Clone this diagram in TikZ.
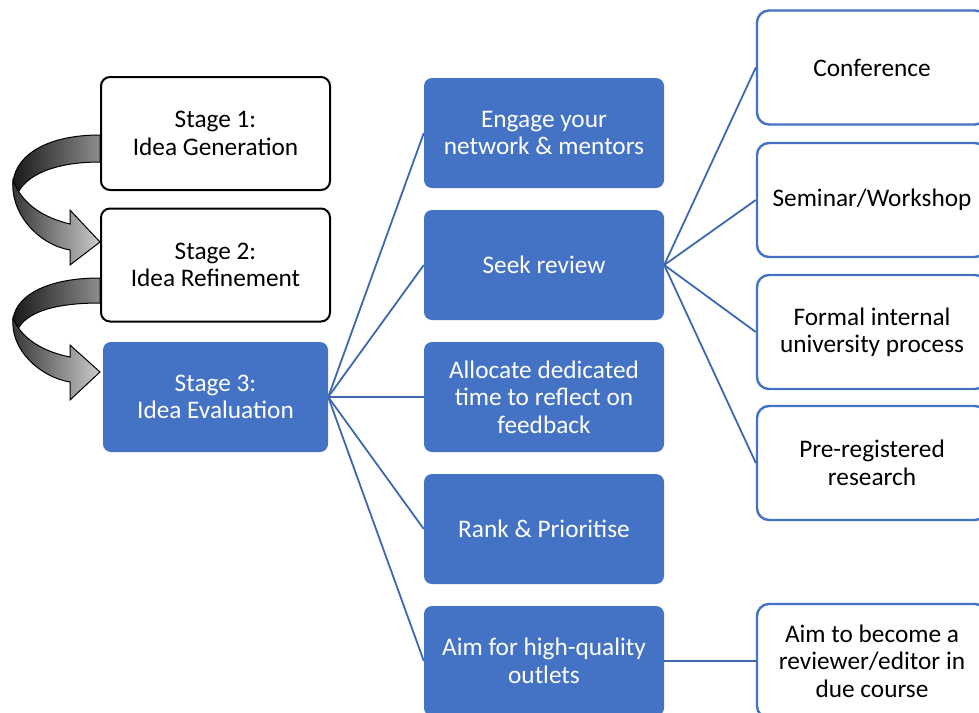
\documentclass[tikz,border=0pt]{standalone}
\usepackage{fontspec}
\setmainfont{Carlito}
\definecolor{accent}{HTML}{4472C4}
\definecolor{linkblue}{HTML}{3F67B0}
\tikzset{
  txt/.style={align=center, font=\fontsize{25.3}{27.5}\selectfont},
  stagebox/.style={txt, draw=black, line width=2pt, fill=white, rounded corners=9pt,
    minimum width=229pt, minimum height=113pt},
  stagefill/.style={txt, fill=accent, text=white, rounded corners=8pt,
    minimum width=225pt, minimum height=110pt},
  midbox/.style={txt, fill=accent, text=white, rounded corners=8pt,
    minimum width=240pt, minimum height=110pt},
  outbox/.style={txt, draw=accent, line width=2.4pt, fill=white, rounded corners=12pt,
    minimum width=230pt, minimum height=114pt},
  link/.style={draw=linkblue, line width=1.8pt},
  backband/.style={draw=black, line width=1pt, left color=black!90, right color=black!45},
  frontband/.style={draw=black, line width=1pt, left color=black!80, right color=black!20}
}
\begin{document}
\begin{tikzpicture}[x=1pt,y=-1pt]
\useasboundingbox (0,0) rectangle (979,712);
\clip (0,0) rectangle (979,712);

% stages
\node[stagebox] (s1) at (215.5,133.5) {Stage 1:\\Idea Generation};
\node[stagebox] (s2) at (215.5,265) {Stage 2:\\Idea Refinement};
\node[stagefill] (s3) at (215.5,397) {Stage 3:\\Idea Evaluation};

% curved arrows between stages
\path[backband] (100,135) .. controls (40,135) and (13,160) .. (13,185)
  -- (17,195) .. controls (25,175) and (55,162) .. (100,162) -- cycle;
\path[frontband] (13,180) .. controls (10,215) and (40,245) .. (70,250)
  -- (70,265) -- (100,242) -- (70,210) -- (70,224)
  .. controls (45,218) and (22,205) .. (13,180) -- cycle;

\path[backband] (100,278) .. controls (40,278) and (13,300) .. (13,322)
  -- (17,331) .. controls (25,312) and (55,303) .. (100,303) -- cycle;
\path[frontband] (13,318) .. controls (10,350) and (40,377) .. (70,382)
  -- (70,400) -- (100,372) -- (70,345) -- (70,357)
  .. controls (45,352) and (22,340) .. (13,318) -- cycle;

% evaluation activities
\node[midbox] (m1) at (544,133) {Engage your\\network \& mentors};
\node[midbox] (m2) at (544,265) {Seek review};
\node[midbox] (m3) at (544,397) {Allocate dedicated\\time to reflect on\\feedback};
\node[midbox] (m4) at (544,529) {Rank \& Prioritise};
\node[midbox] (m5) at (544,661) {Aim for high-quality\\outlets};

% review venues and longer-term goal
\node[outbox] (r1) at (872,67.5) {Conference};
\node[outbox] (r2) at (872,200) {Seminar/Workshop};
\node[outbox] (r3) at (872,332) {Formal internal\\university process};
\node[outbox] (r4) at (872,463) {Pre-registered\\research};
\node[outbox] (r5) at (872,661) {Aim to become a\\reviewer/editor in\\due course};

% connectors
\foreach \m in {m1,m2,m3,m4,m5} \draw[link] (s3.east) -- (\m.west);
\foreach \r in {r1,r2,r3,r4} \draw[link] (m2.east) -- (\r.west);
\draw[link] (m5.east) -- (r5.west);
\end{tikzpicture}
\end{document}
